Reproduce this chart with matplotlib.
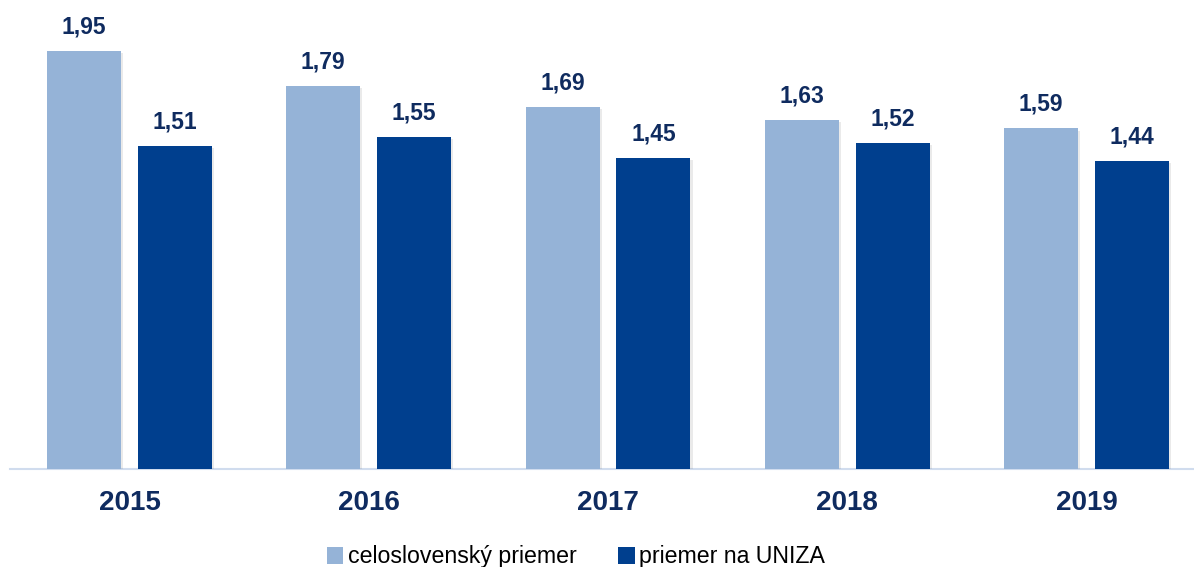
import matplotlib
matplotlib.use("Agg")
import matplotlib.pyplot as plt
from matplotlib.patches import Patch
import matplotlib.patheffects as pe
import numpy as np

years = ["2015", "2016", "2017", "2018", "2019"]
celoslovensky = [1.95, 1.79, 1.69, 1.63, 1.59]
uniza = [1.51, 1.55, 1.45, 1.52, 1.44]
series_names = ["celoslovenský priemer", "priemer na UNIZA"]

light = "#95b3d7"
dark = "#003f8e"
txt = "#0f2b5f"

plt.rcParams['font.family'] = ['Liberation Sans', 'DejaVu Sans']

W, H = 1194, 567
fig = plt.figure(figsize=(W / 100, H / 100), dpi=100)
base_px = 469
ax = fig.add_axes([10 / W, (H - base_px) / H, (W - 10) / W, base_px / H])

x = np.arange(len(years))
off = 0.19
bw = 0.309
shadow = [pe.SimplePatchShadow(offset=(1.5, -1.5), alpha=0.12, shadow_rgbFace="#555555"), pe.Normal()]
b1 = ax.bar(x - off, celoslovensky, bw, color=light, zorder=3, path_effects=shadow)
b2 = ax.bar(x + off, uniza, bw, color=dark, zorder=3, path_effects=shadow)

for bars, vals in ((b1, celoslovensky), (b2, uniza)):
    for r, v in zip(bars, vals):
        ax.annotate(f"{v:.2f}".replace(".", ","), (r.get_x() + r.get_width() / 2, v),
                    xytext=(0, 24), textcoords="offset pixels", ha="center", va="center",
                    fontsize=16.5, fontweight="bold", color=txt)

ax.set_xlim((10 - 129.5) / 239.25, (W - 129.5) / 239.25)
ax.set_ylim(0, base_px / 214.2)
ax.set_xticks(x)
ax.set_xticklabels(years, fontsize=20, fontweight="bold", color=txt)
ax.tick_params(axis="x", length=0, pad=15)
ax.set_yticks([])
for s in ["top", "right", "left"]:
    ax.spines[s].set_visible(False)
ax.spines["bottom"].set_color("#d0dcee")
ax.spines["bottom"].set_linewidth(1.5)

handles = [Patch(facecolor=light, edgecolor="none"), Patch(facecolor=dark, edgecolor="none")]
fig.legend(handles, series_names, loc="center", bbox_to_anchor=(576 / W, 1 - 557 / H),
           ncol=2, frameon=False, fontsize=16.7, handlelength=0.7, handleheight=0.7,
           handletextpad=0.2, columnspacing=1.8, borderaxespad=0)

fig.savefig("out.png", dpi=100)
